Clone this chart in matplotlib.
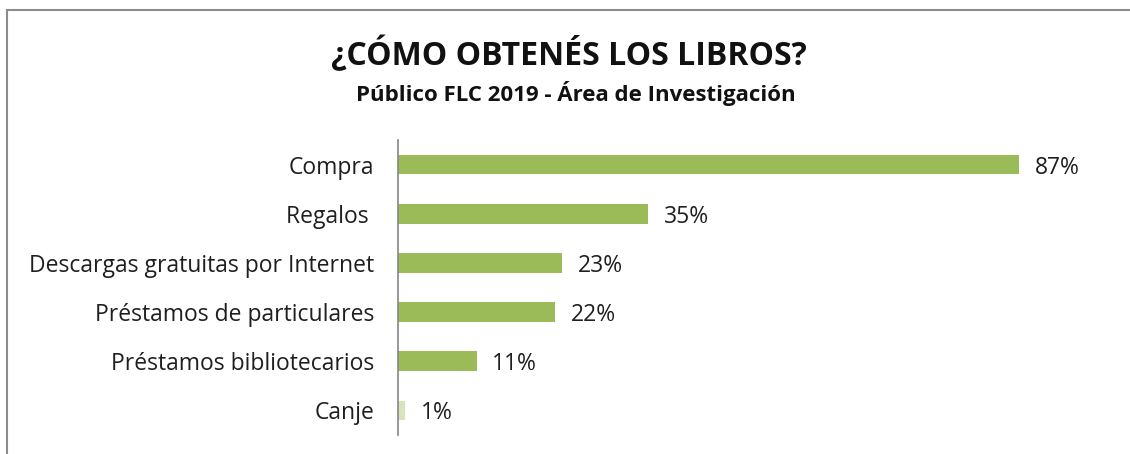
import matplotlib
matplotlib.use("Agg")
import matplotlib.pyplot as plt
from matplotlib.patches import Rectangle

# Data
categories = ["Compra", "Regalos ", "Descargas gratuitas por Internet",
              "Préstamos de particulares", "Préstamos bibliotecarios", "Canje"]
values = [87, 35, 23, 22, 11, 1]
bar_colors = ["#9BBB59", "#9BBB59", "#9BBB59", "#9BBB59", "#9BBB59", "#D7E4BD"]
title = "¿CÓMO OBTENÉS LOS LIBROS?"
subtitle = "Público FLC 2019 - Área de Investigación"

plt.rcParams['font.family'] = ['Open Sans', 'DejaVu Sans']
W, H = 1130, 454
fig = plt.figure(figsize=(W / 100, H / 100), dpi=100)

# chart border (only top/left visible in the crop)
fig.patches.append(Rectangle((7 / W, -0.1), 1.2, 1 - 10 / H + 0.1,
                             transform=fig.transFigure, fill=False,
                             edgecolor="#8c8c8c", linewidth=1.5))

# axes: left at x=398, y from 140 to 435
ax = fig.add_axes([398 / W, 1 - 435 / H, 714 / W, 295 / H])
ypos = list(range(len(categories)))[::-1]
ax.barh(ypos, values, height=0.4, color=bar_colors)
for y, v in zip(ypos, values):
    ax.text(v + 2.2, y, f"{v}%", va="center_baseline", ha="left",
            fontsize=16.5, color="#1f1f1f")

ax.set_xlim(0, 100)
ax.set_ylim(-0.5, len(categories) - 0.5)
ax.set_yticks(ypos)
ax.set_yticklabels(categories, fontsize=16.5, color="#1f1f1f")
ax.tick_params(axis="y", length=0, pad=17)
ax.set_xticks([])
for s in ["top", "right", "bottom"]:
    ax.spines[s].set_visible(False)
ax.spines["left"].set_color("#868686")
ax.spines["left"].set_linewidth(1.2)

fig.text(569 / W, 1 - 55 / H, title, ha="center", va="center",
         fontsize=23, fontweight="bold", color="#111111")
fig.text(576 / W, 1 - 93 / H, subtitle, ha="center", va="center",
         fontsize=16, fontweight="bold", color="#111111")

fig.savefig("out.png", dpi=100)
